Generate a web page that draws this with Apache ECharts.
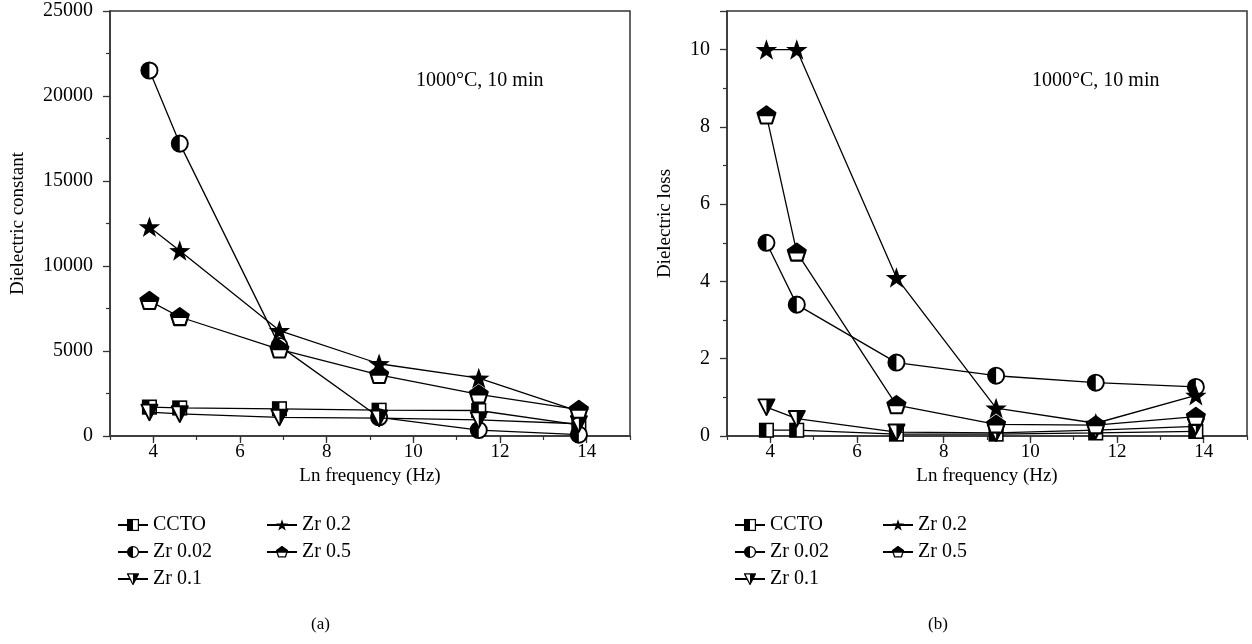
<!DOCTYPE html>
<html>
<head>
<meta charset="utf-8">
<script src="https://cdn.jsdelivr.net/npm/echarts@6/dist/echarts.min.js"></script>
<style>
  html, body { margin: 0; padding: 0; background: #fff; }
  #chart { width: 1252px; height: 644px; }
</style>
</head>
<body>
<div id="chart"></div>
<script>
// ln of the measuring frequency (50 Hz ... 1 MHz)
const lnFreq = [3.91, 4.61, 6.91, 9.21, 11.51, 13.82];
const seriesNames = ['CCTO', 'Zr 0.02', 'Zr 0.1', 'Zr 0.2', 'Zr 0.5'];

// (a) dielectric constant
const constCCTO = [1700, 1650, 1600, 1520, 1500, 650];
const constZr002 = [21500, 17200, 5300, 1100, 350, 80];
const constZr01 = [1400, 1300, 1100, 1050, 950, 720];
const constZr02 = [12300, 10900, 6200, 4250, 3400, 1450];
const constZr05 = [7950, 7000, 5100, 3600, 2450, 1550];

// (b) dielectric loss
const lossCCTO = [0.15, 0.15, 0.05, 0.05, 0.08, 0.12];
const lossZr002 = [5.0, 3.4, 1.9, 1.56, 1.38, 1.27];
const lossZr01 = [0.75, 0.45, 0.1, 0.08, 0.15, 0.25];
const lossZr02 = [10.0, 10.0, 4.1, 0.72, 0.33, 1.05];
const lossZr05 = [8.3, 4.75, 0.8, 0.3, 0.28, 0.5];

const xTicks = [4, 6, 8, 10, 12, 14];
const annotation = '1000°C, 10 min';

const FONT = 'Liberation Serif';

// two-tone marker shapes as small svg images
function svgIcon(body) {
  const svg = '<svg xmlns="http://www.w3.org/2000/svg" width="40" height="40" viewBox="0 0 20 20">' + body + '</svg>';
  return 'image://data:image/svg+xml;charset=utf-8,' + encodeURIComponent(svg);
}
function starPoints(cx, cy, ro, ri) {
  const pts = [];
  for (let i = 0; i < 10; i++) {
    const r = i % 2 === 0 ? ro : ri;
    const a = -Math.PI / 2 + i * Math.PI / 5;
    pts.push((cx + r * Math.cos(a)).toFixed(2) + ',' + (cy + r * Math.sin(a)).toFixed(2));
  }
  return pts.join(' ');
}
const symbols = {
  square: svgIcon('<rect x="1.5" y="1.5" width="17" height="17" fill="#fff" stroke="#000" stroke-width="2"/>' +
    '<rect x="1.5" y="1.5" width="8.5" height="17" fill="#000"/>'),
  circle: svgIcon('<circle cx="10" cy="10" r="8.5" fill="#fff" stroke="#000" stroke-width="2"/>' +
    '<path d="M10 1.5 A8.5 8.5 0 0 0 10 18.5 Z" fill="#000"/>'),
  triangle: svgIcon('<polygon points="1.5,2 18.5,2 10,18.5" fill="#fff" stroke="#000" stroke-width="2" stroke-linejoin="round"/>' +
    '<polygon points="10,2 18.5,2 10,18.5" fill="#000"/>'),
  star: svgIcon('<polygon points="' + starPoints(10, 10.8, 9.8, 3.9) + '" fill="#000"/>'),
  pentagon: svgIcon('<polygon points="10,1.5 18.56,7.72 15.29,17.78 4.71,17.78 1.44,7.72" fill="#fff" stroke="#000" stroke-width="2" stroke-linejoin="round"/>' +
    '<polygon points="10,1.5 18.56,7.72 17.49,11 2.51,11 1.44,7.72" fill="#000"/>'),
};
const symbolList = [symbols.square, symbols.circle, symbols.triangle, symbols.star, symbols.pentagon];
const symbolSizes = [16, 19, 19, 23, 21];

function pairs(ys) {
  return ys.map((y, i) => [lnFreq[i], y]);
}

function makeSeries(idx, dataSets) {
  return dataSets.map((ys, i) => ({
    name: seriesNames[i],
    type: 'line',
    xAxisIndex: idx * 2,
    yAxisIndex: idx,
    data: pairs(ys),
    symbol: symbolList[i],
    symbolSize: symbolSizes[i],
    showAllSymbol: true,
    lineStyle: { color: '#000', width: 1.3 },
    itemStyle: { color: '#000' },
    z: 3 + i,
    animation: false,
  }));
}

// main x axis: labels and long ticks at the even values
function xAxis(idx) {
  return {
    type: 'value',
    gridIndex: idx,
    min: 3,
    max: 15,
    interval: 1,
    name: 'Ln frequency (Hz)',
    nameLocation: 'middle',
    nameGap: 27,
    nameTextStyle: { fontFamily: FONT, fontSize: 19, color: '#000' },
    axisLine: { show: true, lineStyle: { color: '#333', width: 1.5 } },
    axisTick: { show: true, length: 7, customValues: xTicks, lineStyle: { color: '#333', width: 1.3 } },
    axisLabel: { fontFamily: FONT, fontSize: 19, color: '#000', margin: 7, customValues: xTicks },
    splitLine: { show: false },
  };
}
// short ticks at every unit
function xMinorAxis(idx) {
  return {
    type: 'value',
    gridIndex: idx,
    min: 3,
    max: 15,
    interval: 1,
    position: 'bottom',
    axisLine: { show: false },
    axisTick: { show: true, length: 4, lineStyle: { color: '#333', width: 1.2 } },
    axisLabel: { show: false },
    splitLine: { show: false },
  };
}

function yAxis(idx, opts) {
  return Object.assign({
    type: 'value',
    gridIndex: idx,
    nameLocation: 'middle',
    nameRotate: 90,
    nameTextStyle: { fontFamily: FONT, fontSize: 19, color: '#000' },
    axisLine: { show: true, lineStyle: { color: '#333', width: 1.5 } },
    axisTick: { show: true, length: 7, lineStyle: { color: '#333', width: 1.3 } },
    minorTick: { show: true, splitNumber: 2, length: 4, lineStyle: { color: '#333', width: 1.2 } },
    splitLine: { show: false },
  }, opts);
}

function legends(left1, left2, panel) {
  const common = {
    orient: 'vertical',
    top: 510,
    itemWidth: 30,
    itemHeight: 16,
    itemGap: 7,
    textStyle: { fontFamily: FONT, fontSize: 20, color: '#000' },
    selectedMode: false,
  };
  return [
    Object.assign({ id: panel + 'a', left: left1, data: seriesNames.slice(0, 3) }, common),
    Object.assign({ id: panel + 'b', left: left2, data: seriesNames.slice(3) }, common),
  ];
}

const chart = echarts.init(document.getElementById('chart'));

const option = {
  backgroundColor: '#fff',
  animation: false,
  grid: [
    { left: 110, top: 11, width: 520, height: 425, show: true, borderColor: '#333', borderWidth: 1.5, backgroundColor: 'transparent' },
    { left: 727, top: 11, width: 520, height: 425, show: true, borderColor: '#333', borderWidth: 1.5, backgroundColor: 'transparent' },
  ],
  xAxis: [xAxis(0), xMinorAxis(0), xAxis(1), xMinorAxis(1)],
  yAxis: [
    yAxis(0, {
      min: 0, max: 25000, interval: 5000, name: 'Dielectric constant', nameGap: 82,
      axisLabel: { fontFamily: FONT, fontSize: 20, color: '#000', margin: 17, formatter: (v) => String(v) },
    }),
    yAxis(1, {
      min: 0, max: 11, interval: 2, name: 'Dielectric loss', nameGap: 52,
      axisLabel: { fontFamily: FONT, fontSize: 20, color: '#000', margin: 17, showMaxLabel: false,
        formatter: (v) => (v > 10 ? '' : String(v)) },
    }),
  ],
  legend: legends(112, 261, 'l').concat(legends(729, 877, 'r')),
  series: makeSeries(0, [constCCTO, constZr002, constZr01, constZr02, constZr05])
    .concat(makeSeries(1, [lossCCTO, lossZr002, lossZr01, lossZr02, lossZr05])),
  graphic: [
    { type: 'text', left: 416, top: 71, style: { text: annotation, font: '20px "Liberation Serif"', fill: '#000' } },
    { type: 'text', left: 1032, top: 71, style: { text: annotation, font: '20px "Liberation Serif"', fill: '#000' } },
    { type: 'text', left: 311, top: 616, style: { text: '(a)', font: '17px "Liberation Serif"', fill: '#000' } },
    { type: 'text', left: 928, top: 616, style: { text: '(b)', font: '17px "Liberation Serif"', fill: '#000' } },
  ],
};

chart.setOption(option);
</script>
</body>
</html>
